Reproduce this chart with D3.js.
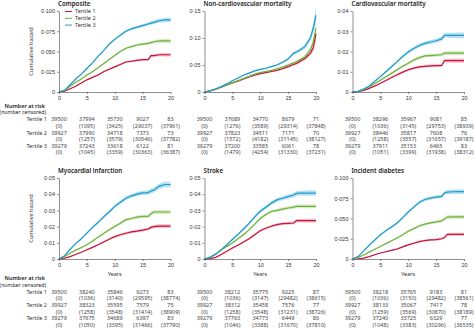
<!DOCTYPE html>
<html>
<head>
<meta charset="utf-8">
<script src="https://cdn.jsdelivr.net/npm/d3@7"></script>
<style>
body { margin: 0; background: #fff; }
svg { display: block; font-family: "Noto Sans", sans-serif; }
</style>
</head>
<body>
<svg id="chart" width="474" height="331"></svg>
<script>
// follow-up time points (years)
const years = [0,1,2,3,4,5,6,7,8,9,10,11,12,13,14,15,16,16.5,17,18,19,19.5,20];
const tertiles = ["Tertile 1", "Tertile 2", "Tertile 3"];
const xTicks = [0, 5, 10, 15, 20];

// cumulative hazard per tertile
const compositeHaz = [
  [0,.001,.004,.007,.011,.015,.018,.021,.025,.028,.031,.034,.037,.038,.039,.040,.040,.045,.045,.046,.046,.046,.046],
  [0,.002,.007,.012,.016,.021,.025,.030,.035,.040,.045,.050,.054,.056,.058,.059,.060,.061,.062,.063,.063,.063,.063],
  [0,.002,.009,.016,.022,.029,.036,.044,.051,.059,.065,.070,.075,.078,.080,.082,.084,.085,.086,.088,.089,.089,.089]
];
const compositeCI = [
  [0,.0002,.0003,.0004,.0005,.0006,.0007,.0008,.0008,.0009,.001,.0011,.0012,.0012,.0013,.0014,.0015,.0016,.0017,.0019,.0021,.0022,.0022],
  [0,.0002,.0003,.0005,.0006,.0007,.0008,.0009,.001,.0011,.0012,.0013,.0014,.0015,.0016,.0017,.0018,.0019,.002,.0022,.0024,.0025,.0025],
  [0,.0002,.0004,.0006,.0007,.0008,.0009,.001,.0011,.0012,.0014,.0015,.0016,.0017,.0018,.0019,.002,.0022,.0023,.0026,.0028,.0029,.003]
];
const nonCvHaz = [
  [0,.002,.005,.009,.013,.017,.020,.024,.028,.031,.034,.036,.038,.040,.043,.047,.051,.053,.056,.062,.072,.082,.108],
  [0,.002,.005,.009,.013,.017,.021,.025,.029,.033,.036,.038,.040,.043,.046,.050,.054,.056,.059,.065,.078,.092,.118],
  [0,.002,.006,.010,.015,.021,.026,.031,.035,.039,.042,.044,.047,.050,.055,.061,.072,.074,.077,.084,.100,.118,.142]
];
const nonCvCI = [
  [0,.0003,.0005,.0007,.0008,.0009,.001,.0011,.0012,.0013,.0014,.0015,.0016,.0017,.0018,.002,.0022,.0024,.0026,.0032,.0045,.007,.014],
  [0,.0003,.0005,.0007,.0008,.0009,.001,.0011,.0012,.0013,.0014,.0015,.0016,.0017,.0019,.0021,.0023,.0025,.0028,.0034,.0048,.0075,.015],
  [0,.0003,.0005,.0007,.0008,.001,.0011,.0012,.0013,.0014,.0015,.0016,.0017,.0018,.002,.0022,.0025,.0027,.003,.0037,.0055,.008,.016]
];
const cvHaz = [
  [0,.0002,.0008,.0018,.003,.0043,.0057,.0072,.0085,.0098,.011,.0118,.0124,.0127,.0129,.013,.0131,.0155,.0155,.0155,.0155,.0155,.0155],
  [0,.0003,.0013,.0026,.0042,.0058,.0075,.0092,.011,.0127,.0142,.0158,.017,.0178,.018,.0182,.0184,.0192,.0192,.0192,.0192,.0192,.0192],
  [0,.0003,.0015,.003,.0053,.0076,.010,.0125,.015,.0175,.0198,.0215,.023,.024,.0247,.0253,.0262,.028,.028,.028,.028,.028,.028]
];
const cvCI = [
  [0,.0001,.0002,.0002,.0003,.0003,.0004,.0004,.0005,.0005,.0006,.0006,.0006,.0007,.0007,.0007,.0008,.0009,.0009,.001,.001,.001,.001],
  [0,.0001,.0002,.0002,.0003,.0004,.0004,.0005,.0005,.0006,.0006,.0007,.0007,.0007,.0008,.0008,.0008,.0009,.0009,.001,.001,.001,.001],
  [0,.0001,.0002,.0003,.0004,.0004,.0005,.0006,.0006,.0007,.0008,.0008,.0009,.0009,.001,.001,.0011,.0012,.0012,.0013,.0014,.0014,.0014]
];
const miHaz = [
  [0,.0005,.0015,.0028,.0042,.0057,.0072,.0088,.0105,.0122,.0138,.015,.0159,.0167,.0172,.0178,.0185,.0195,.020,.0203,.0203,.0203,.0203],
  [0,.0015,.0035,.0055,.007,.0088,.011,.0135,.0158,.018,.020,.022,.0243,.025,.0258,.0263,.0263,.028,.029,.029,.029,.029,.029],
  [0,.002,.006,.0095,.0125,.016,.0195,.0225,.026,.029,.0325,.035,.0375,.039,.040,.0408,.041,.042,.0425,.045,.046,.046,.046]
];
const miCI = [
  [0,.0001,.0002,.0003,.0003,.0004,.0005,.0005,.0006,.0006,.0007,.0007,.0008,.0008,.0008,.0009,.0009,.001,.001,.0011,.0011,.0011,.0011],
  [0,.0001,.0002,.0003,.0004,.0004,.0005,.0006,.0006,.0007,.0008,.0008,.0009,.0009,.001,.001,.001,.0011,.0011,.0012,.0012,.0012,.0012],
  [0,.0002,.0003,.0004,.0005,.0006,.0007,.0008,.0009,.0009,.001,.0011,.0012,.0012,.0013,.0013,.0014,.0015,.0015,.0016,.0017,.0017,.0017]
];
const strokeHaz = [
  [0,.0002,.001,.0028,.0048,.0068,.0085,.0105,.0125,.015,.0175,.019,.0202,.0212,.0218,.022,.0222,.0237,.0237,.0237,.0237,.0237,.0237],
  [0,.001,.003,.0055,.0078,.0099,.0125,.015,.018,.0215,.025,.0275,.0293,.030,.0308,.0315,.032,.0325,.0325,.0325,.0325,.0325,.0325],
  [0,.001,.003,.0058,.0088,.012,.0152,.0185,.022,.026,.0295,.032,.0345,.0365,.0375,.0385,.0395,.0405,.0407,.0407,.0407,.0407,.0407]
];
const strokeCI = [
  [0,.0001,.0002,.0003,.0003,.0004,.0005,.0005,.0006,.0006,.0007,.0007,.0008,.0008,.0008,.0009,.0009,.001,.001,.0011,.0011,.0011,.0011],
  [0,.0001,.0002,.0003,.0004,.0004,.0005,.0006,.0006,.0007,.0008,.0008,.0009,.0009,.001,.001,.001,.0011,.0011,.0012,.0012,.0012,.0012],
  [0,.0002,.0003,.0004,.0005,.0006,.0007,.0008,.0009,.0009,.001,.0011,.0012,.0012,.0013,.0013,.0014,.0015,.0015,.0016,.0017,.0017,.0017]
];
const diabetesHaz = [
  [0,.0003,.001,.003,.0052,.0074,.009,.0106,.0123,.015,.0175,.0195,.0215,.0228,.0235,.024,.025,.0265,.0305,.0305,.0305,.0305,.0305],
  [0,.002,.005,.0085,.012,.0155,.019,.0225,.026,.030,.0342,.0375,.041,.043,.0445,.0458,.047,.0495,.0518,.052,.052,.052,.052],
  [0,.003,.010,.017,.0235,.030,.035,.0395,.0445,.051,.058,.064,.070,.0735,.0752,.0765,.0772,.0815,.0825,.083,.0832,.0832,.0832]
];
const diabetesCI = [
  [0,.0002,.0003,.0004,.0005,.0006,.0007,.0008,.0009,.001,.0011,.0012,.0012,.0013,.0014,.0014,.0015,.0016,.0017,.0018,.0018,.0018,.0018],
  [0,.0002,.0004,.0005,.0006,.0008,.0009,.001,.0011,.0012,.0013,.0014,.0015,.0016,.0017,.0018,.0019,.002,.0021,.0022,.0022,.0022,.0022],
  [0,.0003,.0005,.0007,.0009,.001,.0012,.0013,.0014,.0015,.0016,.0018,.0019,.002,.0021,.0022,.0023,.0025,.0026,.0028,.0029,.0029,.0029]
];

// number at risk / number censored at 0, 5, 10, 15, 20 years
const compositeAtRisk = [[39500,37994,35730,9027,83],[39927,37990,34718,7373,73],[39279,37243,33618,6122,81]];
const compositeCensored = [[0,1095,3425,29037,37961],[0,1257,3579,30546,37782],[0,1045,3359,30363,36387]];
const nonCvAtRisk = [[39500,37689,34770,8679,71],[39927,37823,34511,7171,70],[39279,37200,33585,6061,78]];
const nonCvCensored = [[0,1276,3589,29314,37848],[0,1572,4182,31145,38127],[0,1479,4254,31330,37231]];
const cvAtRisk = [[39500,38296,35967,9081,85],[39927,38446,35817,7608,76],[39279,37911,35153,6465,83]];
const cvCensored = [[0,1036,3145,29753,38939],[0,1258,3557,31657,39187],[0,1051,3399,31938,38312]];
const miAtRisk = [[39500,38240,35846,9273,83],[39927,38323,35595,7579,75],[39279,37675,34689,6397,83]];
const miCensored = [[0,1036,3140,29595,38774],[0,1258,3548,31414,38909],[0,1050,3395,31466,37790]];
const strokeAtRisk = [[39500,38212,35775,9225,87],[39927,38312,35458,7576,77],[39279,37763,34773,6449,86]];
const strokeCensored = [[0,1036,3147,29482,38615],[0,1258,3548,31231,38726],[0,1046,3388,31670,37810]];
const diabetesAtRisk = [[39500,38218,35765,9183,81],[39927,38133,35067,7417,78],[39279,37240,33725,6329,77]];
const diabetesCensored = [[0,1036,3150,29482,38561],[0,1259,3569,30870,38189],[0,1048,3383,30296,36535]];

const lineColors = ["#c8143c", "#6cb33e", "#1e9bc8"];
const bandColors = ["#f4b3bf", "#cfe8b8", "#a9dcf1"];

const panels = [
  { title: "Composite", haz: compositeHaz, ci: compositeCI, atRisk: compositeAtRisk, cens: compositeCensored, yMax: 0.1, yTicks: [0,.025,.05,.075,.1], dec: 3, col: 0, row: 0 },
  { title: "Non-cardiovascular mortality", haz: nonCvHaz, ci: nonCvCI, atRisk: nonCvAtRisk, cens: nonCvCensored, yMax: 0.15, yTicks: [0,.05,.1,.15], dec: 2, col: 1, row: 0 },
  { title: "Cardiovascular mortality", haz: cvHaz, ci: cvCI, atRisk: cvAtRisk, cens: cvCensored, yMax: 0.04, yTicks: [0,.01,.02,.03,.04], dec: 2, col: 2, row: 0 },
  { title: "Myocardial infarction", haz: miHaz, ci: miCI, atRisk: miAtRisk, cens: miCensored, yMax: 0.05, yTicks: [0,.01,.02,.03,.04,.05], dec: 2, col: 0, row: 1 },
  { title: "Stroke", haz: strokeHaz, ci: strokeCI, atRisk: strokeAtRisk, cens: strokeCensored, yMax: 0.05, yTicks: [0,.01,.02,.03,.04,.05], dec: 2, col: 1, row: 1 },
  { title: "Incident diabetes", haz: diabetesHaz, ci: diabetesCI, atRisk: diabetesAtRisk, cens: diabetesCensored, yMax: 0.1, yTicks: [0,.025,.05,.075,.1], dec: 3, col: 2, row: 1 }
];

const cols = [[59, 170.5], [204.5, 316], [352.5, 464]];
const rows = [
  { top: 11, bottom: 92, table: 106, years: false },
  { top: 178, bottom: 259, table: 278.5, years: true }
];
const rowStep = 6.65;

const svg = d3.select("#chart");

function fmtTick(dec) {
  const f = d3.format("." + dec + "f");
  return d => d === 0 ? "0" : f(d).replace(".", "\u00b7");
}

panels.forEach(p => {
  const [x0, x1] = cols[p.col];
  const r = rows[p.row];
  const x = d3.scaleLinear().domain([0, 20]).range([x0, x1]);
  const y = d3.scaleLinear().domain([0, p.yMax]).range([r.bottom, r.top]);
  const g = svg.append("g");

  // confidence bands, then lines on top
  p.haz.forEach((s, i) => {
    const area = d3.area()
      .x((d, j) => x(years[j]))
      .y0((d, j) => y(Math.max(0, d - p.ci[i][j])))
      .y1((d, j) => y(d + p.ci[i][j]));
    g.append("path").attr("d", area(s)).attr("fill", bandColors[i]).attr("opacity", 0.85);
  });
  p.haz.forEach((s, i) => {
    const line = d3.line().x((d, j) => x(years[j])).y(d => y(d));
    g.append("path").attr("d", line(s)).attr("fill", "none")
      .attr("stroke", lineColors[i]).attr("stroke-width", 1.2);
  });

  const xAxis = g.append("g").attr("transform", `translate(0,${r.bottom})`)
    .call(d3.axisBottom(x).tickValues(xTicks).tickSize(2).tickSizeOuter(0).tickPadding(2));
  const yAxis = g.append("g").attr("transform", `translate(${x0},0)`)
    .call(d3.axisLeft(y).tickValues(p.yTicks).tickFormat(fmtTick(p.dec)).tickSize(2).tickSizeOuter(0).tickPadding(2));
  [xAxis, yAxis].forEach(a => {
    a.selectAll("path,line").attr("stroke", "#444").attr("stroke-width", 0.6);
    a.selectAll("text").attr("fill", "#333").style("font-size", "5.5px");
  });

  g.append("text").attr("x", x0 - 1).attr("y", r.top - 5.5)
    .attr("fill", "#222").style("font-size", "6.2px").style("font-weight", 600)
    .text(p.title);

  if (p.col === 0) {
    g.append("text")
      .attr("transform", `translate(33,${(r.top + r.bottom) / 2}) rotate(-90)`)
      .attr("text-anchor", "middle").attr("fill", "#333").style("font-size", "5.5px")
      .text("Cumulative hazard");
  }
  if (r.years) {
    g.append("text").attr("x", (x0 + x1) / 2).attr("y", r.bottom + 17)
      .attr("text-anchor", "middle").attr("fill", "#333").style("font-size", "5.5px")
      .text("Years");
  }

  // number at risk table
  const t = g.append("g").style("font-size", "5.5px");
  if (p.col === 0) {
    t.append("text").attr("x", 45).attr("y", r.table).attr("dy", "0.35em")
      .attr("text-anchor", "end").attr("fill", "#222").style("font-weight", 600).text("Number at risk");
    t.append("text").attr("x", 46).attr("y", r.table + rowStep).attr("dy", "0.35em")
      .attr("text-anchor", "end").attr("fill", "#222").style("font-size", "5.2px").text("(number censored)");
  }
  p.atRisk.forEach((vals, i) => {
    const yr = r.table + (2 + 2 * i) * rowStep;
    if (p.col === 0) {
      t.append("text").attr("x", 47).attr("y", yr).attr("dy", "0.35em")
        .attr("text-anchor", "end").attr("fill", "#333").text(tertiles[i]);
    }
    vals.forEach((v, k) => {
      t.append("text").attr("x", x(xTicks[k])).attr("y", yr).attr("dy", "0.35em")
        .attr("text-anchor", "middle").attr("fill", "#444").text(v);
      t.append("text").attr("x", x(xTicks[k])).attr("y", yr + rowStep).attr("dy", "0.35em")
        .attr("text-anchor", "middle").attr("fill", "#444").text("(" + p.cens[i][k] + ")");
    });
  });

  // legend in the first panel
  if (p.col === 0 && p.row === 0) {
    const lg = g.append("g");
    tertiles.forEach((name, i) => {
      const ly = r.top + 0.5 + i * 6.8;
      lg.append("line").attr("x1", 65).attr("x2", 72).attr("y1", ly).attr("y2", ly)
        .attr("stroke", lineColors[i]).attr("stroke-width", 1);
      lg.append("text").attr("x", 75).attr("y", ly).attr("dy", "0.35em")
        .attr("fill", "#333").style("font-size", "5.5px").text(name);
    });
  }
});
</script>
</body>
</html>
